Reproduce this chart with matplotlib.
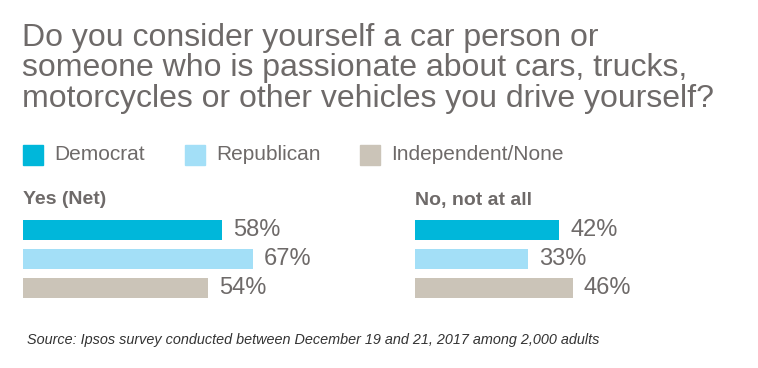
import matplotlib
matplotlib.use("Agg")
import matplotlib.pyplot as plt
from matplotlib.patches import Rectangle

# data
groups = ["Democrat", "Republican", "Independent/None"]
yes_net = [58, 67, 54]
no_not_at_all = [42, 33, 46]
panel_titles = ["Yes (Net)", "No, not at all"]
colors = ["#00b7da", "#a3dff7", "#cbc4b8"]

title = ("Do you consider yourself a car person or\n"
         "someone who is passionate about cars, trucks,\n"
         "motorcycles or other vehicles you drive yourself?")
source = "Source: Ipsos survey conducted between December 19 and 21, 2017 among 2,000 adults"

W, H = 758, 368
txt_gray = "#6e6a69"
plt.rcParams['font.family'] = ['Liberation Sans', 'DejaVu Sans']

fig = plt.figure(figsize=(W / 100, H / 100), dpi=100)

def fx(px):
    return px / W

def fy(py):
    return 1 - py / H

# title
fig.text(fx(22), fy(23), title, ha="left", va="top", fontsize=23,
         color=txt_gray, linespacing=1.02)

# legend
leg_x = [23, 185, 360]
for gx, name, c in zip(leg_x, groups, colors):
    fig.patches.append(Rectangle((fx(gx), fy(165)), fx(20), 20 / H,
                                 transform=fig.transFigure, color=c))
    fig.text(fx(gx + 31), fy(155), name, ha="left", va="center",
             fontsize=15, color=txt_gray)

# the two bar panels
px_per_pct = 3.43
ax_w = 300
panel_x = [23, 415]
for x0, vals, ptitle in zip(panel_x, [yes_net, no_not_at_all], panel_titles):
    ax = fig.add_axes([fx(x0), fy(302.5), fx(ax_w), 87 / H])
    ax.barh(range(len(vals)), vals, height=20 / 29, color=colors)
    for i, v in enumerate(vals):
        ax.text(v + 3.2, i, f"{v}%", va="center", ha="left",
                fontsize=17, color=txt_gray)
    ax.set_xlim(0, ax_w / px_per_pct)
    ax.set_ylim(2.5, -0.5)
    ax.axis("off")
    fig.text(fx(x0), fy(200), ptitle, ha="left", va="center",
             fontsize=14, color=txt_gray, fontweight="bold")

fig.text(fx(27), fy(340), source, ha="left", va="center", fontsize=10.4,
         style="italic", color="#333333")

fig.savefig("out.png", dpi=100, facecolor="white")
